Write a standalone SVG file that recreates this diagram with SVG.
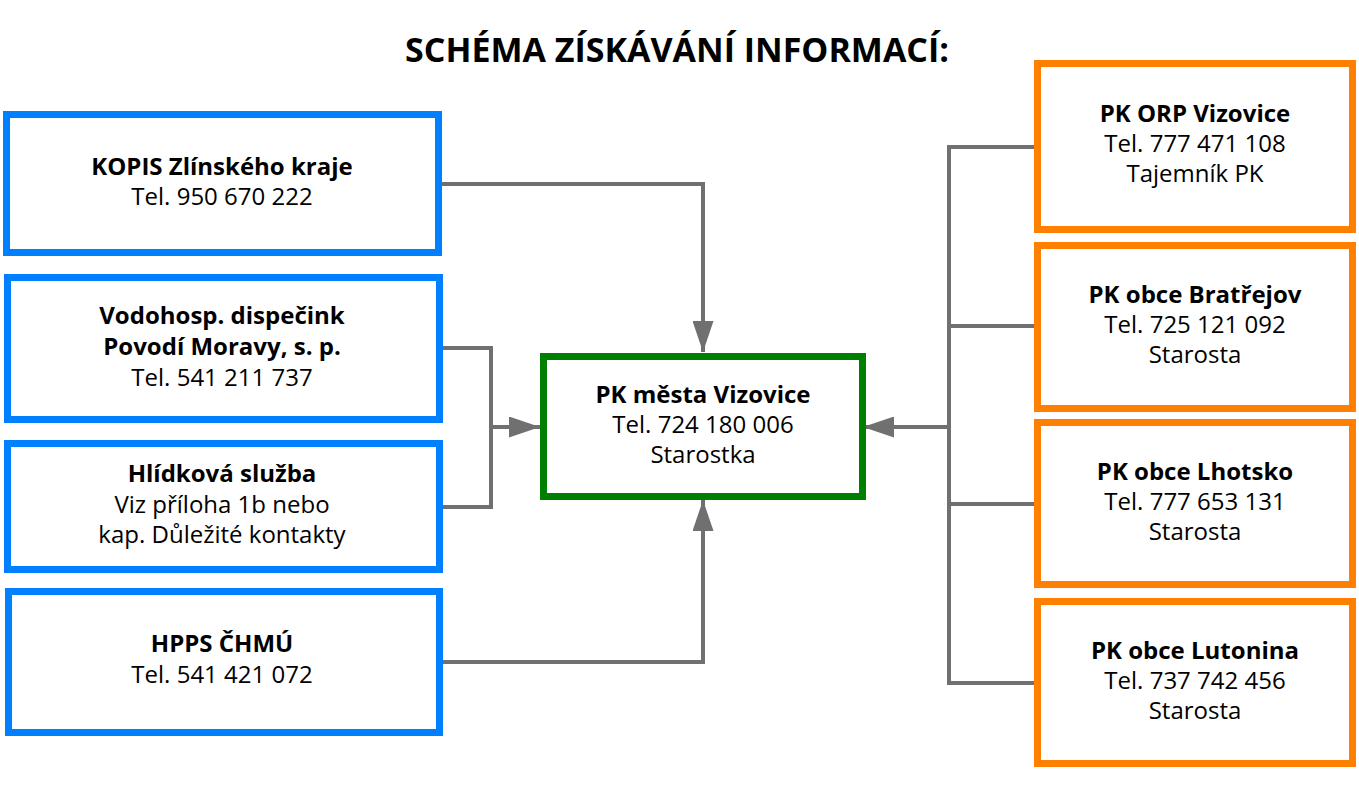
<svg xmlns="http://www.w3.org/2000/svg" width="1359" height="787" viewBox="0 0 1359 787">
<defs>
<style>
text{font-family:"Open Sans","Noto Sans","DejaVu Sans",sans-serif;font-size:24px;fill:#000;text-anchor:middle}
.b{font-weight:bold}
.title{font-size:34px;font-weight:bold}
.blue{fill:#fff;stroke:#0080FF;stroke-width:7}
.green{fill:#fff;stroke:#008000;stroke-width:7}
.orange{fill:#fff;stroke:#FF8000;stroke-width:7}
.con{fill:none;stroke:#707070;stroke-width:4}
</style>
<marker id="arr" viewBox="0 0 31 21" refX="31" refY="10.5" markerWidth="31" markerHeight="21" markerUnits="userSpaceOnUse" orient="auto">
<path d="M0,0 L31,10.5 L0,21 Z" fill="#707070"/>
</marker>
</defs>
<rect width="1359" height="787" fill="#fff"/>
<text class="title" x="677" y="62">SCHÉMA ZÍSKÁVÁNÍ INFORMACÍ:</text>
<g id="connectors">
<path class="con" d="M442,184 H703 V352" marker-end="url(#arr)"/>
<path class="con" d="M442,348 H491 V507 H442"/>
<path class="con" d="M491,427 H540" marker-end="url(#arr)"/>
<path class="con" d="M442,662 H703 V500" marker-end="url(#arr)"/>
<path class="con" d="M1034,147 H949 V683 H1034"/>
<path class="con" d="M949,326 H1034"/>
<path class="con" d="M949,504 H1034"/>
<path class="con" d="M949,427 H863" marker-end="url(#arr)"/>
</g>
<g id="kopis">
<rect class="blue" x="6.5" y="114.5" width="432" height="138"/>
<text class="b" x="222" y="175">KOPIS Zlínského kraje</text>
<text x="222" y="205">Tel. 950 670 222</text>
</g>
<g id="vodohosp">
<rect class="blue" x="7.5" y="277.5" width="432" height="142"/>
<text class="b" x="222" y="324">Vodohosp. dispečink</text>
<text class="b" x="222" y="355">Povodí Moravy, s. p.</text>
<text x="222" y="386">Tel. 541 211 737</text>
</g>
<g id="hlidkova">
<rect class="blue" x="7.5" y="443.5" width="432" height="126"/>
<text class="b" x="222" y="482">Hlídková služba</text>
<text x="222" y="513">Viz příloha 1b nebo</text>
<text x="222" y="543">kap. Důležité kontakty</text>
</g>
<g id="hpps">
<rect class="blue" x="8.5" y="591.5" width="431" height="141"/>
<text class="b" x="222" y="652">HPPS ČHMÚ</text>
<text x="222" y="683">Tel. 541 421 072</text>
</g>
<g id="mesto">
<rect class="green" x="543.5" y="356.5" width="319" height="140"/>
<text class="b" x="703" y="403">PK města Vizovice</text>
<text x="703" y="433">Tel. 724 180 006</text>
<text x="703" y="463">Starostka</text>
</g>
<g id="orp">
<rect class="orange" x="1037.5" y="63.5" width="315" height="166"/>
<text class="b" x="1195" y="122">PK ORP Vizovice</text>
<text x="1195" y="152">Tel. 777 471 108</text>
<text x="1195" y="182">Tajemník PK</text>
</g>
<g id="bratrejov">
<rect class="orange" x="1037.5" y="245.5" width="315" height="163"/>
<text class="b" x="1195" y="303">PK obce Bratřejov</text>
<text x="1195" y="333">Tel. 725 121 092</text>
<text x="1195" y="363">Starosta</text>
</g>
<g id="lhotsko">
<rect class="orange" x="1037.5" y="422.5" width="315" height="162"/>
<text class="b" x="1195" y="480">PK obce Lhotsko</text>
<text x="1195" y="510">Tel. 777 653 131</text>
<text x="1195" y="540">Starosta</text>
</g>
<g id="lutonina">
<rect class="orange" x="1037.5" y="601.5" width="315" height="162"/>
<text class="b" x="1195" y="659">PK obce Lutonina</text>
<text x="1195" y="689">Tel. 737 742 456</text>
<text x="1195" y="719">Starosta</text>
</g>
</svg>
